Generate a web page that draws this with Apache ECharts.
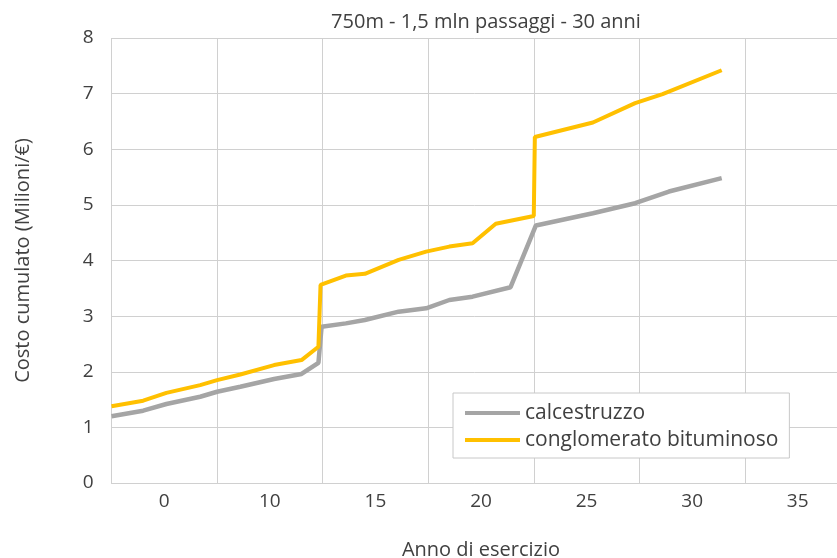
<!DOCTYPE html>
<html>
<head>
<meta charset="utf-8">
<script src="https://cdn.jsdelivr.net/npm/echarts@6/dist/echarts.min.js"></script>
<style>
html,body{margin:0;padding:0;background:#fff;}
#c{width:837px;height:558px;}
</style>
</head>
<body>
<div id="c"></div>
<script>
const chartTitle = '750m - 1,5 mln passaggi - 30 anni';
const xTickLabels = ['0', '10', '15', '20', '25', '30', '35'];
const seriesNames = ['calcestruzzo', 'conglomerato bituminoso'];
const calcestruzzo = [
  [0, 1.2], [1.5, 1.3], [2.6, 1.42], [4.2, 1.55], [5, 1.64], [6.1, 1.73], [7.7, 1.87],
  [9, 1.96], [9.8, 2.16], [9.95, 2.81], [11.1, 2.87], [12, 2.93], [13.6, 3.08], [14.9, 3.14],
  [16, 3.29], [17.1, 3.35], [18.9, 3.52], [20.1, 4.63], [22.8, 4.85], [24.8, 5.03],
  [26.4, 5.24], [28.9, 5.48]
];
const conglomerato = [
  [0, 1.38], [1.5, 1.48], [2.6, 1.62], [4.2, 1.76], [5, 1.85], [6.1, 1.95], [7.7, 2.12],
  [9, 2.21], [9.8, 2.45], [9.9, 3.56], [11.1, 3.73], [12, 3.76], [13.6, 4.01], [14.9, 4.16],
  [16, 4.25], [17.1, 4.31], [18.2, 4.66], [20, 4.8], [20.05, 6.22], [22.8, 6.48],
  [24.8, 6.83], [26.1, 6.99], [28.9, 7.42]
];

const FONT = '"Open Sans", "Noto Sans", sans-serif';
const TXT = '#404040';
const GRID = '#d0d0d0';

const chart = echarts.init(document.getElementById('c'), null, {renderer: 'canvas'});
chart.setOption({
  animation: false,
  backgroundColor: '#ffffff',
  textStyle: {fontFamily: FONT},
  title: {
    text: chartTitle,
    left: 481,
    top: 7,
    textAlign: 'center',
    textStyle: {fontFamily: FONT, fontSize: 20, fontWeight: 'normal', color: TXT}
  },
  legend: {
    orient: 'vertical',
    left: 453,
    top: 393,
    padding: [9, 11, 7, 12],
    backgroundColor: '#ffffff',
    borderColor: '#c8c8c8',
    borderWidth: 1,
    borderRadius: 0,
    itemWidth: 55,
    itemHeight: 4,
    itemGap: 5,
    icon: 'rect',
    textStyle: {fontFamily: FONT, fontSize: 21, color: TXT, lineHeight: 22},
    data: seriesNames
  },
  grid: {left: 111.5, right: -13.5, top: 38, bottom: 75, containLabel: false, outerBoundsMode: 'none'},
  xAxis: [
    {
      type: 'value',
      min: 0, max: 35, interval: 5,
      axisLine: {show: true, lineStyle: {color: GRID, width: 1}},
      axisTick: {show: false},
      axisLabel: {show: false},
      splitLine: {show: true, lineStyle: {color: GRID, width: 1}}
    },
    {
      type: 'category',
      position: 'bottom',
      data: xTickLabels,
      boundaryGap: true,
      axisLine: {show: false},
      axisTick: {show: false},
      splitLine: {show: false},
      axisLabel: {interval: 0, margin: 9, fontFamily: FONT, fontSize: 19, color: TXT},
      name: 'Anno di esercizio',
      nameLocation: 'middle',
      nameGap: 57,
      nameTextStyle: {fontFamily: FONT, fontSize: 20, color: TXT}
    }
  ],
  yAxis: {
    type: 'value',
    min: 0, max: 8, interval: 1,
    axisLine: {show: false},
    axisTick: {show: false},
    axisLabel: {margin: 18, fontFamily: FONT, fontSize: 19, color: TXT},
    splitLine: {show: true, lineStyle: {color: GRID, width: 1}},
    name: 'Costo cumulato (Milioni/€)',
    nameLocation: 'middle',
    nameRotate: 90,
    nameGap: 78,
    nameTextStyle: {fontFamily: FONT, fontSize: 20, color: TXT}
  },
  series: [
    {
      name: seriesNames[0], type: 'line', xAxisIndex: 0, data: calcestruzzo,
      symbol: 'none', showSymbol: false,
      lineStyle: {color: '#A5A5A5', width: 4.5},
      itemStyle: {color: '#A5A5A5'}
    },
    {
      name: seriesNames[1], type: 'line', xAxisIndex: 0, data: conglomerato,
      symbol: 'none', showSymbol: false,
      lineStyle: {color: '#FFC000', width: 4},
      itemStyle: {color: '#FFC000'}
    }
  ]
});
</script>
</body>
</html>
